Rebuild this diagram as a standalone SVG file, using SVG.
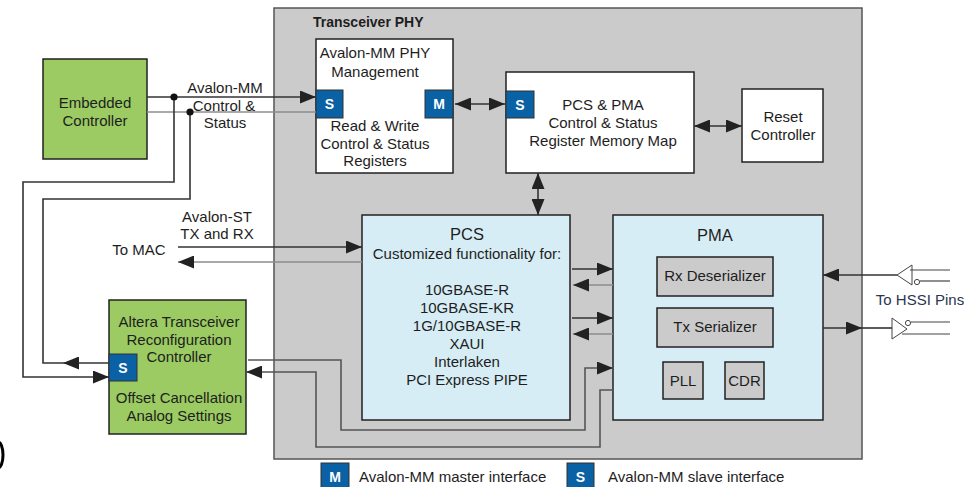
<svg xmlns="http://www.w3.org/2000/svg" width="971" height="487" viewBox="0 0 971 487">
<defs>
<style>
text{font-family:"Liberation Sans",Arial,sans-serif;font-size:15px;fill:#1e1e1e;text-anchor:middle}
.box{stroke:#222;stroke-width:1.5}
.white{fill:#fff}
.green{fill:#9bcb62}
.blue{fill:#d6edf5}
.gray{fill:#cbcbcb}
.badge{fill:#0a61a3;stroke:#333;stroke-width:1}
.bt{fill:#fff;font-weight:bold;font-size:14px}
.dk{fill:none;stroke:#333;stroke-width:1.6}
.lt{fill:none;stroke:#8c8c8c;stroke-width:1.6}
.md{fill:none;stroke:#555;stroke-width:1.6}
.l{text-anchor:start}
</style>
<marker id="ah" markerUnits="userSpaceOnUse" markerWidth="16" markerHeight="13" refX="16" refY="6.5" orient="auto-start-reverse">
<path d="M0,0 L16,6.5 L0,13 z" fill="#222"/>
</marker>
</defs>

<ellipse cx="-2" cy="455" rx="5" ry="13" fill="none" stroke="#000" stroke-width="3"/>

<g id="transceiver-phy">
<rect x="274" y="8" width="588" height="451" fill="#cbcbcb" stroke="#555" stroke-width="1.5"/>
<text x="313" y="27" class="l" style="font-weight:bold;font-size:14px">Transceiver PHY</text>
</g>

<g id="embedded-controller">
<rect class="box green" x="43" y="59" width="104" height="100"/>
<text x="95" y="108">Embedded</text>
<text x="95" y="126">Controller</text>
</g>

<g id="phy-management">
<rect class="box white" x="316" y="39" width="137" height="134"/>
<text x="375" y="58">Avalon-MM PHY</text>
<text x="375" y="77">Management</text>
<text x="375" y="131">Read &amp; Write</text>
<text x="375" y="149">Control &amp; Status</text>
<text x="375" y="166">Registers</text>
<rect class="badge" x="316" y="90" width="27" height="28"/>
<text class="bt" x="329.5" y="109">S</text>
<rect class="badge" x="425" y="90" width="28" height="28"/>
<text class="bt" x="439" y="109">M</text>
</g>

<g id="memory-map">
<rect class="box white" x="506" y="72" width="188" height="101"/>
<text x="603" y="110">PCS &amp; PMA</text>
<text x="603" y="128">Control &amp; Status</text>
<text x="603" y="146">Register Memory Map</text>
<rect class="badge" x="506" y="91" width="28" height="27"/>
<text class="bt" x="520" y="109.5">S</text>
</g>

<g id="reset-controller">
<rect class="box white" x="742" y="89" width="81" height="73"/>
<text x="783" y="122">Reset</text>
<text x="783" y="140">Controller</text>
</g>

<g id="pcs">
<rect class="box blue" x="362" y="215" width="208" height="205"/>
<text x="467" y="240" style="font-size:16.5px">PCS</text>
<text x="467" y="259">Customized functionality for:</text>
<text x="467" y="295">10GBASE-R</text>
<text x="467" y="313">10GBASE-KR</text>
<text x="467" y="331">1G/10GBASE-R</text>
<text x="467" y="349">XAUI</text>
<text x="467" y="367">Interlaken</text>
<text x="467" y="385">PCI Express PIPE</text>
</g>

<g id="pma">
<rect class="box blue" x="613" y="215" width="210" height="205"/>
<text x="715" y="241" style="font-size:16.5px">PMA</text>
<rect class="box gray" x="657" y="257" width="116" height="39"/>
<text x="715" y="281">Rx Deserializer</text>
<rect class="box gray" x="657" y="308" width="116" height="39"/>
<text x="715" y="332">Tx Serializer</text>
<rect class="box gray" x="663" y="362" width="40" height="37"/>
<text x="683" y="386">PLL</text>
<rect class="box gray" x="725" y="362" width="39" height="37"/>
<text x="744.5" y="386">CDR</text>
</g>

<g id="reconfig-controller">
<rect class="box green" x="109" y="300" width="137" height="134"/>
<text x="179" y="327">Altera Transceiver</text>
<text x="179" y="345">Reconfiguration</text>
<text x="179" y="362">Controller</text>
<text x="179" y="403">Offset Cancellation</text>
<text x="179" y="421">Analog Settings</text>
<rect class="badge" x="109" y="354" width="28" height="27"/>
<text class="bt" x="123" y="372.5">S</text>
</g>

<g id="hssi-buffers">
<polygon points="897,275 912,265 912,285" fill="#fff" stroke="#444" stroke-width="1"/>
<circle cx="917" cy="282" r="2.6" fill="#fff" stroke="#444" stroke-width="1"/>
<line x1="910" y1="270" x2="950" y2="270" stroke="#444" stroke-width="1.2"/>
<line x1="920" y1="281" x2="950" y2="281" stroke="#444" stroke-width="1.2"/>
<polygon points="892,318 892,339 907,329" fill="#fff" stroke="#444" stroke-width="1"/>
<circle cx="908" cy="323" r="2.6" fill="#fff" stroke="#444" stroke-width="1"/>
<line x1="911" y1="322" x2="950" y2="322" stroke="#444" stroke-width="1.2"/>
<line x1="902" y1="334" x2="950" y2="334" stroke="#444" stroke-width="1.2"/>
<text x="920" y="305" style="fill:#2a3550">To HSSI Pins</text>
</g>

<g id="labels">
<text x="225" y="93">Avalon-MM</text>
<text x="224" y="110.5">Control &amp;</text>
<text x="225" y="128">Status</text>
<text x="217" y="222">Avalon-ST</text>
<text x="217" y="239">TX and RX</text>
<text x="139" y="255">To MAC</text>
</g>

<g id="connectors">
<path class="dk" d="M147,97 H316" marker-end="url(#ah)"/>
<path class="lt" d="M147,112 H316"/>
<path class="dk" d="M174,97 V182 H23 V377 H109" marker-end="url(#ah)"/>
<path class="dk" d="M109,363 H63" marker-end="url(#ah)"/>
<path class="dk" d="M63,363 H43 V199 H190 V112"/>
<circle cx="174" cy="97" r="3.6" fill="#111"/>
<circle cx="190" cy="112" r="3.6" fill="#111"/>
<path class="dk" d="M455,104 H505" marker-start="url(#ah)" marker-end="url(#ah)"/>
<path class="dk" d="M694,126 H742" marker-start="url(#ah)" marker-end="url(#ah)"/>
<path class="dk" d="M538,173 V215" marker-start="url(#ah)" marker-end="url(#ah)"/>
<path class="dk" d="M178,247 H362" marker-end="url(#ah)"/>
<path class="lt" d="M362,262 H178" marker-end="url(#ah)"/>
<path class="dk" d="M572,269 H613" marker-end="url(#ah)"/>
<path class="lt" d="M613,285 H573" marker-end="url(#ah)"/>
<path class="dk" d="M572,318 H613" marker-end="url(#ah)"/>
<path class="lt" d="M613,334 H573" marker-end="url(#ah)"/>
<path class="md" d="M248,360 H341 V430 H585 V368 H613" marker-end="url(#ah)"/>
<path class="md" d="M613,390 H600 V447 H316 V372 H246" marker-end="url(#ah)"/>
<path class="dk" d="M897,275 H823" marker-end="url(#ah)"/>
<path class="dk" d="M823,328 H862" marker-end="url(#ah)"/>
<path class="dk" d="M862,328 H892"/>
</g>

<g id="legend">
<rect class="badge" x="321" y="463" width="28" height="28"/>
<text class="bt" x="335" y="482">M</text>
<text class="l" x="359" y="482">Avalon-MM master interface</text>
<rect class="badge" x="567" y="463" width="27" height="28"/>
<text class="bt" x="580.5" y="482">S</text>
<text class="l" x="608" y="482">Avalon-MM slave interface</text>
</g>
</svg>
